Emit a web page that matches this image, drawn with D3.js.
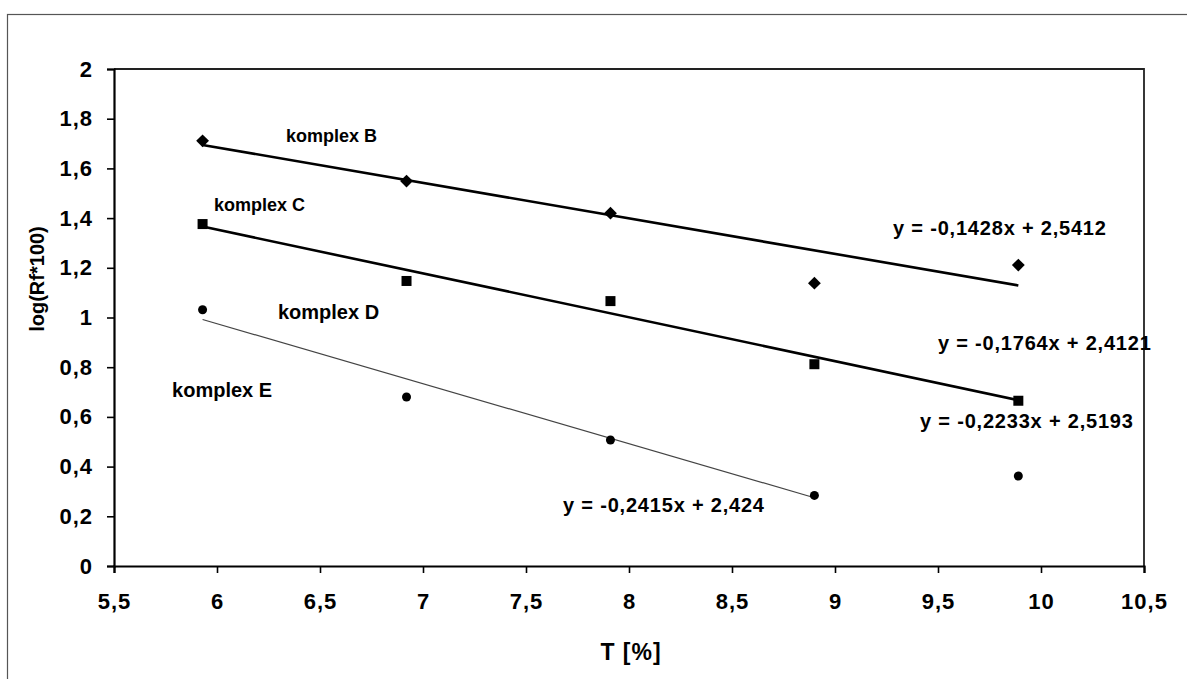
<!DOCTYPE html>
<html lang="en">
<head>
    <meta charset="UTF-8">
    <title>log(Rf*100) vs T</title>
    <script src="https://d3js.org/d3.v7.min.js"></script>
    <style>
        body {
            margin: 0;
            background: #ffffff;
        }
        svg text {
            font-family: "Liberation Sans", Arial, sans-serif;
            font-weight: bold;
            fill: #000;
        }
    </style>
</head>
<body>
    <main></main>

<script>
    // data
    var xValues = [5.93, 6.92, 7.91, 8.90, 9.89];
    var seriesB = [1.711, 1.549, 1.420, 1.138, 1.211];   // diamonds
    var seriesC = [1.376, 1.147, 1.066, 0.812, 0.665];   // squares
    var seriesD = [1.031, 0.680, 0.507, 0.284, 0.362];   // circles

    // trendlines as given by the equations on the chart
    var trendSlopes = [-0.1428, -0.1764, -0.2415];
    var trendIntercepts = [2.5412, 2.4121, 2.424];
    var trendEnds = [9.89, 9.89, 8.90];

    var xTicks = [5.5, 6, 6.5, 7, 7.5, 8, 8.5, 9, 9.5, 10, 10.5];
    var yTicks = [0, 0.2, 0.4, 0.6, 0.8, 1, 1.2, 1.4, 1.6, 1.8, 2];

    var equations = ['y = -0,1428x + 2,5412', 'y = -0,1764x + 2,4121', 'y = -0,2233x + 2,5193', 'y = -0,2415x + 2,424'];
    var seriesNames = ['komplex B', 'komplex C', 'komplex D', 'komplex E'];

    var w = 1187, h = 679;
    var m = {top: 69, left: 114, bottom: 113, right: 43};

    var comma = function(v){ return String(v).replace('.', ','); };

    var svg = d3.select('main')
                .append('svg')
                .attr('width', w)
                .attr('height', h)
                .style('display', 'block')
                .style('background', '#ffffff');

    // outer chart frame (runs off the page right and bottom)
    svg.append('rect')
        .attr('x', 7.5)
        .attr('y', 14.5)
        .attr('width', 1300)
        .attr('height', 800)
        .attr('fill', 'none')
        .attr('stroke', '#555')
        .attr('stroke-width', 1.2);

    var x = d3.scaleLinear().domain([5.5, 10.5]).range([m.left, w - m.right]);
    var y = d3.scaleLinear().domain([0, 2]).range([h - m.bottom, m.top]);

    // plot area border top + right
    svg.append('path')
        .attr('d', 'M' + x(5.5) + ',' + y(2) + 'H' + x(10.5) + 'V' + y(0))
        .attr('fill', 'none')
        .attr('stroke', '#222')
        .attr('stroke-width', 1.8);

    // axes
    var xAxis = svg.append('g')
        .attr('transform', 'translate(0,' + y(0) + ')')
        .call(d3.axisBottom(x).tickValues(xTicks).tickSize(7).tickPadding(20).tickFormat(comma));
    var yAxis = svg.append('g')
        .attr('transform', 'translate(' + x(5.5) + ',0)')
        .call(d3.axisLeft(y).tickValues(yTicks).tickSize(7).tickPadding(14).tickFormat(comma));

    [xAxis, yAxis].forEach(function(a){
        a.select('.domain').attr('stroke', '#000').attr('stroke-width', 2.2);
        a.selectAll('.tick line').attr('stroke', '#000').attr('stroke-width', 1.6);
        a.selectAll('.tick text')
            .style('font-size', '22px')
            .style('letter-spacing', '1px')
            .style('font-family', '"Liberation Sans", Arial, sans-serif')
            .style('font-weight', 'bold')
            .attr('fill', '#000');
    });

    // axis titles
    svg.append('text')
        .attr('x', 631)
        .attr('y', 660)
        .attr('text-anchor', 'middle')
        .style('font-size', '23px')
        .style('letter-spacing', '1px')
        .text('T [%]');
    svg.append('text')
        .attr('transform', 'translate(44,279) rotate(-90)')
        .attr('text-anchor', 'middle')
        .style('font-size', '20px')
        .text('log(Rf*100)');

    // trendlines
    var lineStyles = [{c: '#000', sw: 2.6}, {c: '#000', sw: 2.6}, {c: '#444', sw: 1.2}];
    trendSlopes.forEach(function(s, i){
        var x0 = xValues[0], x1 = trendEnds[i];
        svg.append('line')
            .attr('x1', x(x0))
            .attr('y1', y(trendIntercepts[i] + s * x0))
            .attr('x2', x(x1))
            .attr('y2', y(trendIntercepts[i] + s * x1))
            .attr('stroke', lineStyles[i].c)
            .attr('stroke-width', lineStyles[i].sw);
    });

    // markers
    svg.append('g').selectAll('path')
        .data(seriesB)
        .enter().append('path')
        .attr('d', d3.symbol().type(d3.symbolDiamond2).size(105))
        .attr('transform', function(d, i){ return 'translate(' + x(xValues[i]) + ',' + y(d) + ')'; })
        .attr('fill', '#000');
    svg.append('g').selectAll('rect')
        .data(seriesC)
        .enter().append('rect')
        .attr('x', function(d, i){ return x(xValues[i]) - 5; })
        .attr('y', function(d){ return y(d) - 5; })
        .attr('width', 10)
        .attr('height', 10)
        .attr('fill', '#000');
    svg.append('g').selectAll('circle')
        .data(seriesD)
        .enter().append('circle')
        .attr('cx', function(d, i){ return x(xValues[i]); })
        .attr('cy', function(d){ return y(d); })
        .attr('r', 4.5)
        .attr('fill', '#000');

    // series labels (positions in data units)
    var nameAt = [[6.335, 1.706, 18], [5.985, 1.429, 18], [6.296, 0.994, 20], [5.782, 0.680, 20]];
    seriesNames.forEach(function(n, i){
        svg.append('text')
            .attr('x', x(nameAt[i][0]))
            .attr('y', y(nameAt[i][1]))
            .style('font-size', nameAt[i][2] + 'px')
            .text(n);
    });

    // equation labels
    var eqAt = [[9.282, 1.332], [9.5, 0.869], [9.413, 0.555], [7.68, 0.217]];
    equations.forEach(function(e, i){
        svg.append('text')
            .attr('x', x(eqAt[i][0]))
            .attr('y', y(eqAt[i][1]))
            .style('font-size', '20px')
            .style('letter-spacing', '0.8px')
            .style('white-space', 'pre')
            .text(e);
    });
</script>
</body>
</html>
